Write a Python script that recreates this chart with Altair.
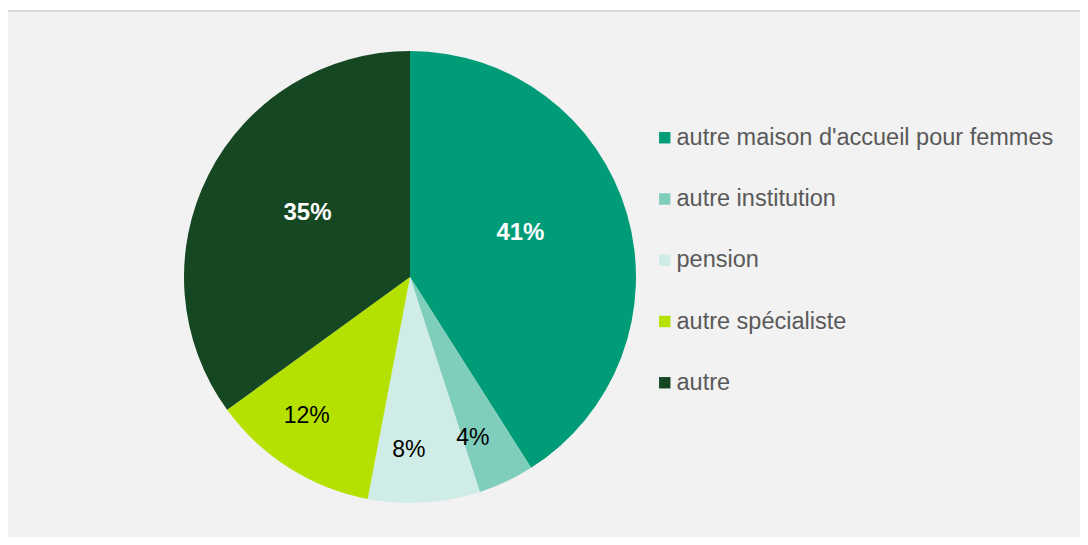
import math
import altair as alt
import pandas as pd

categories = ["autre maison d'accueil pour femmes", "autre institution", "pension",
              "autre spécialiste", "autre"]
values = [41, 4, 8, 12, 35]
labels = ["41%", "4%", "8%", "12%", "35%"]
colors = ["#009B77", "#7FCDBB", "#D0ECE6", "#B5E100", "#154722"]
dark = [True, False, False, False, True]

df = pd.DataFrame({"category": categories, "value": values, "idx": list(range(len(values))),
                   "label": labels, "dark": dark})

W, H = 1072, 529
CX, CY = 402, 269
R = 226
FONT = "Liberation Sans"
SHIFT = math.radians(4)

panel = alt.Chart(pd.DataFrame({"a": [0]})).mark_rect(color="#f2f2f2").encode(
    x=alt.value(0), x2=alt.value(W), y=alt.value(2), y2=alt.value(H)
)
topline = alt.Chart(pd.DataFrame({"a": [0]})).mark_rule(color="#d9d9d9", strokeWidth=2).encode(
    x=alt.value(0), x2=alt.value(W), y=alt.value(3)
)

base = alt.Chart(df).encode(
    theta=alt.Theta("value:Q", stack=True),
    order=alt.Order("idx:Q"),
    x=alt.value(CX),
    y=alt.value(CY),
)

pie = base.mark_arc(outerRadius=R).encode(
    color=alt.Color(
        "category:N",
        scale=alt.Scale(domain=categories, range=colors),
        sort=categories,
        legend=alt.Legend(
            title=None, orient="none", legendX=645, legendY=118,
            symbolType="square", symbolSize=130, symbolStrokeWidth=0, symbolOpacity=1,
            labelFont=FONT, labelFontSize=23.5, labelColor="#595959", labelOffset=0,
            rowPadding=36.25, labelLimit=600, padding=0,
        ),
    )
)

text_dark = base.transform_calculate(
    lab="datum.dark ? datum.label : ''"
).mark_text(radius=115, dy=-12, font=FONT, fontSize=24, fontWeight="bold", color="white").encode(
    text="lab:N"
)
text_light = alt.Chart(df).transform_calculate(
    lab="datum.dark ? '' : datum.label"
).mark_text(radius=174, dy=-1, font=FONT, fontSize=23, color="black").encode(
    theta=alt.Theta("value:Q", stack=True,
                    scale=alt.Scale(range=[SHIFT, 2 * math.pi + SHIFT])),
    order=alt.Order("idx:Q"),
    x=alt.value(CX),
    y=alt.value(CY),
    text="lab:N",
)

chart = alt.layer(panel, topline, pie, text_dark, text_light).resolve_scale(
    theta="independent"
).properties(
    width=W, height=H, padding=0, autosize="none", background="white"
).configure_view(strokeWidth=0)

chart.save("out.html", embed_options={"renderer": "svg", "actions": False})
